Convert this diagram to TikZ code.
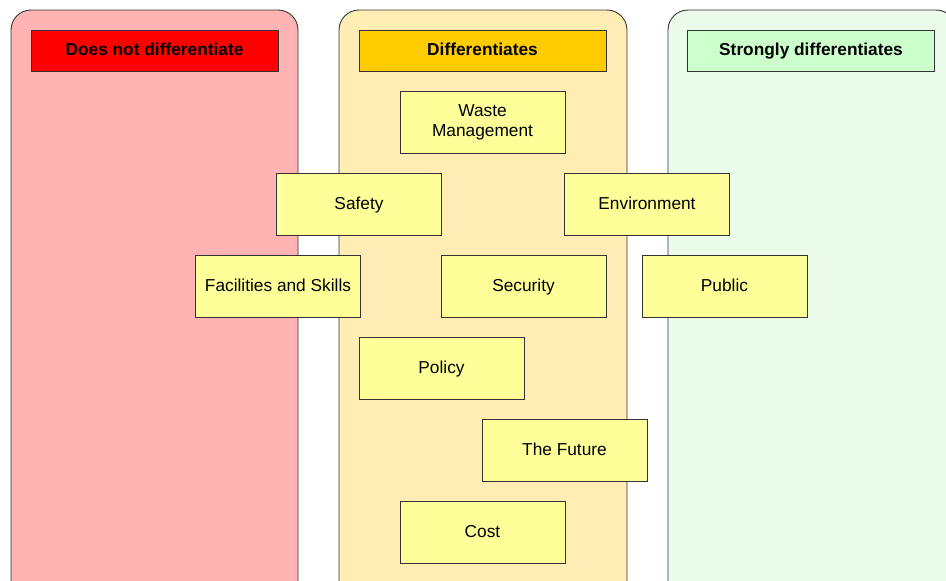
\documentclass[tikz,border=0pt]{standalone}
\usepackage{fontspec}
\setmainfont{Liberation Sans}
\definecolor{panelred}{HTML}{FFB3B3}
\definecolor{panelorange}{HTML}{FFEDB3}
\definecolor{panelgreen}{HTML}{EBFCEB}
\definecolor{headred}{HTML}{FF0000}
\definecolor{headorange}{HTML}{FFCC00}
\definecolor{headgreen}{HTML}{CCFFCC}
\definecolor{boxyellow}{HTML}{FFFF99}
\definecolor{edgegray}{HTML}{333333}
\begin{document}
\begin{tikzpicture}[x=1pt,y=-1pt,
  panel/.style={draw=edgegray, line width=0.9pt, rounded corners=20pt},
  header/.style={draw=edgegray, line width=0.9pt, minimum width=247pt, minimum height=41pt, inner sep=0pt,
    text height=13pt, text depth=3pt,
    font=\fontsize{17.3}{20}\selectfont\bfseries},
  itembase/.style={draw=edgegray, line width=0.9pt, fill=boxyellow, minimum width=165pt, minimum height=62pt,
    inner sep=0pt, align=center, font=\fontsize{17.3}{20}\selectfont},
  item/.style={itembase, text height=13pt, text depth=3pt}]
\useasboundingbox (0,0) rectangle (946,581);
\begin{scope}
\clip (0,0) rectangle (946,581);
\draw[panel, fill=panelred] (11,10) rectangle (298,620);
\draw[panel, fill=panelorange] (339,10) rectangle (627,620);
\draw[panel, fill=panelgreen] (668,10) rectangle (956,620);
\end{scope}
\node[header, fill=headred] (h1) at (154.5,50.5) {Does not differentiate};
\node[header, fill=headorange] (h2) at (482.5,50.5) {Differentiates};
\node[header, fill=headgreen] (h3) at (811,50.5) {Strongly differentiates};
\node[itembase] (waste) at (482.5,122) {\raisebox{-1pt}{Waste}\\\raisebox{-1pt}{Management}};
\node[item] (safety) at (359,204) {Safety};
\node[item] (env) at (647,204) {Environment};
\node[item] (fac) at (278,286) {Facilities and Skills};
\node[item] (sec) at (523.5,286) {Security};
\node[item] (pub) at (724.5,286) {Public};
\node[item] (policy) at (441.5,368) {Policy};
\node[item] (future) at (564.5,450) {The Future};
\node[item] (cost) at (482.5,532) {Cost};
\end{tikzpicture}
\end{document}
